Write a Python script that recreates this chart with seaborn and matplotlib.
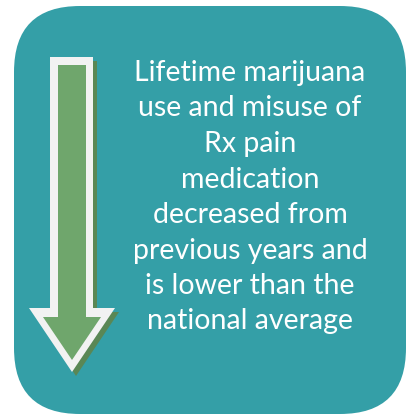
"""
Infographic tile: marijuana / Rx pain medication use decreased
"""

import matplotlib
matplotlib.use("Agg")
import matplotlib.pyplot as plt
import seaborn as sns
from matplotlib.patches import FancyBboxPatch, Polygon

message_lines = [
    "Lifetime marijuana",
    "use and misuse of",
    "Rx pain",
    "medication",
    "decreased from",
    "previous years and",
    "is lower than the",
    "national average",
]

TEAL = "#349fa7"
GREEN = "#6fa66c"
SHADOW = "#5a8755"
OUTLINE = "#f2f2f2"

sns.set_style("white")
plt.rcParams["font.family"] = ["Lato", "DejaVu Sans"]

W, H = 409, 416
fig = plt.figure(figsize=(W / 100, H / 100), dpi=100)
ax = fig.add_axes([0, 0, 1, 1])
ax.set_xlim(0, W)
ax.set_ylim(H, 0)
ax.axis("off")

# rounded teal tile
r = 66
tile = FancyBboxPatch((14 + r, 6 + r), 392 - 2 * r, 408 - 2 * r,
                      boxstyle=f"round,pad={r}", fc=TEAL, ec="none")
ax.add_patch(tile)

# down arrow (outline, shadow, fill)
outer = [(50, 57), (93, 57), (93, 308), (115, 308), (72, 372),
         (29, 308), (50, 308)]
inner = [(58, 65), (86, 65), (86, 317), (101, 317), (72, 360),
         (43, 317), (58, 317)]
shadow = [(x + 4, y + 4) for x, y in outer]
ax.add_patch(Polygon(shadow, closed=True, fc=SHADOW, ec="none"))
ax.add_patch(Polygon(outer, closed=True, fc=OUTLINE, ec="none"))
ax.add_patch(Polygon(inner, closed=True, fc=GREEN, ec="none"))

# message text
y0, step = 73, 35.5
for i, line in enumerate(message_lines):
    ax.text(250, y0 + i * step, line, ha="center", va="center",
            color="white", fontsize=20.5)

fig.savefig("out.png", dpi=100)
plt.close(fig)
